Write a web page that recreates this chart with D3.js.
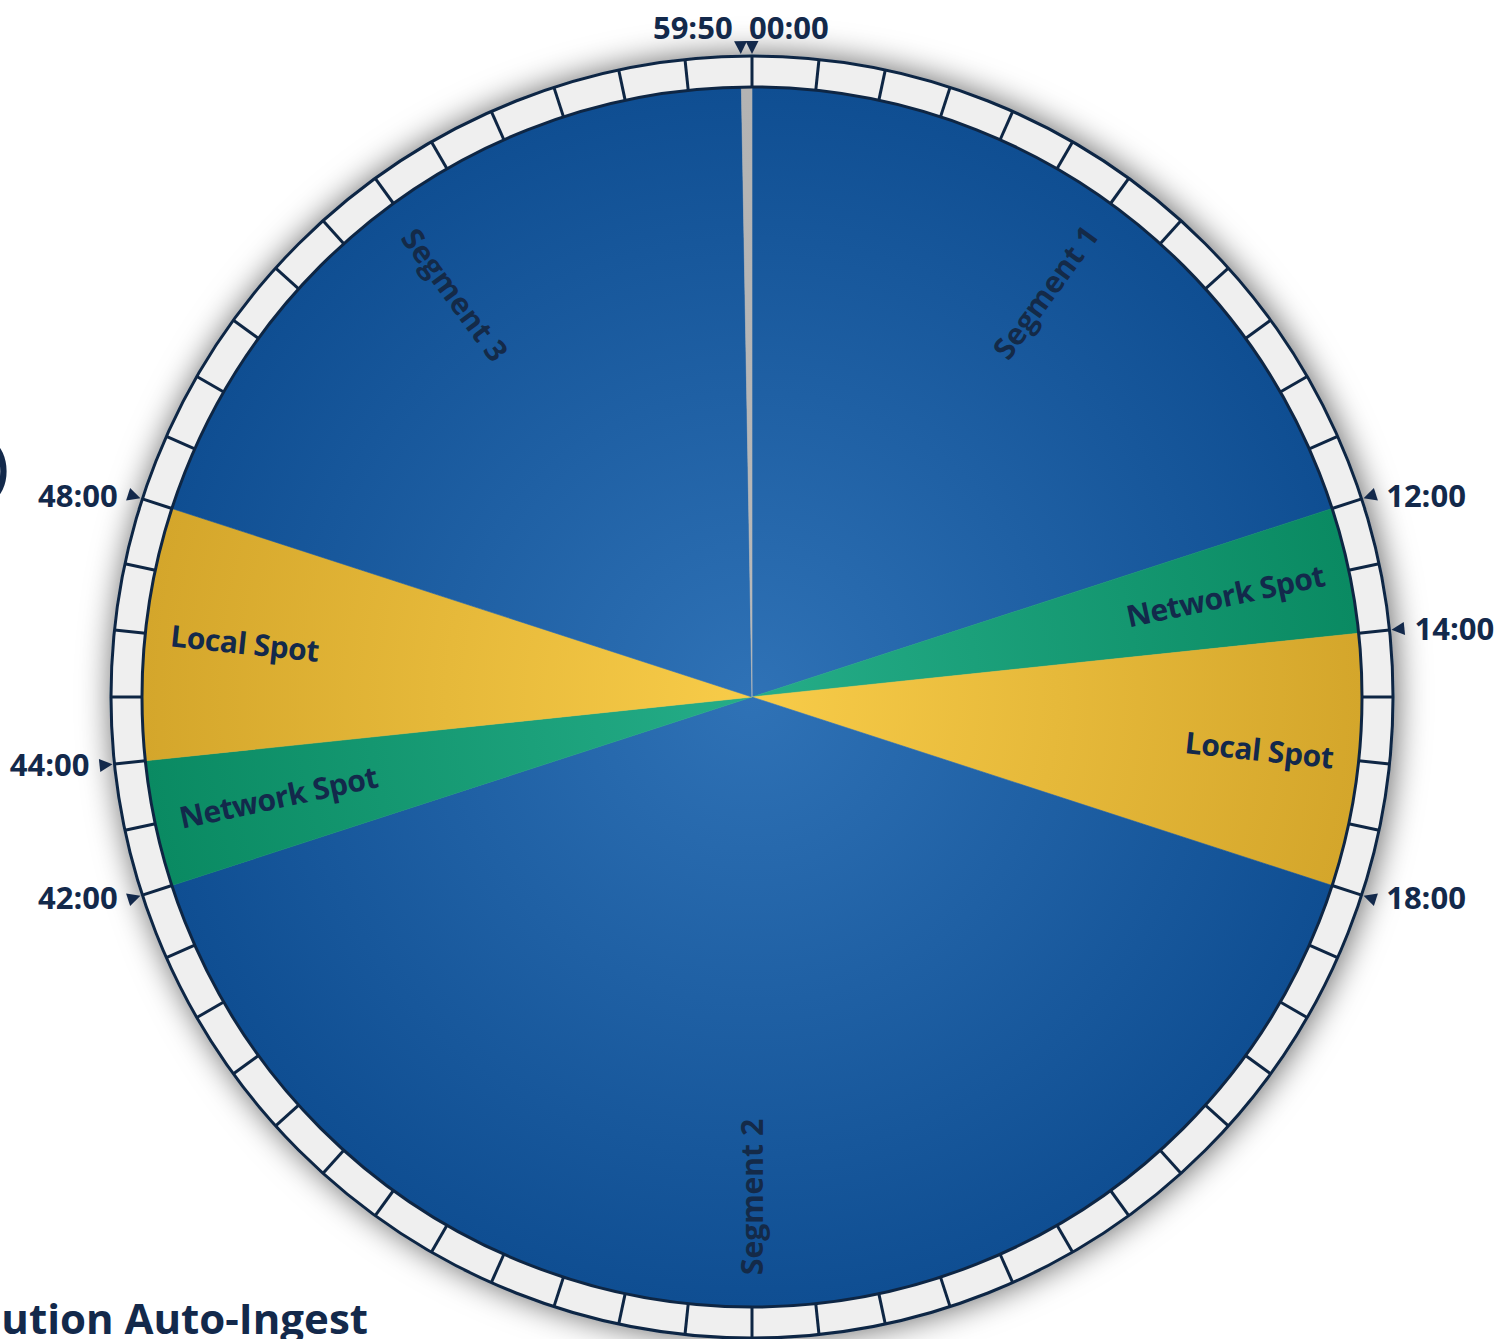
<!DOCTYPE html>
<html>
<head>
<meta charset="utf-8">
<script src="https://cdn.jsdelivr.net/npm/d3@7"></script>
<style>
  html, body { margin: 0; padding: 0; background: #fff; overflow: hidden; }
  svg { display: block; }
  text { font-family: "Open Sans", "Noto Sans", sans-serif; fill: #13294b; }
</style>
</head>
<body>
<svg id="clock"></svg>
<script>
// hour clock, all times in seconds past the hour
var slotNames = ['Segment 1', 'Network Spot', 'Local Spot', 'Segment 2', 'Network Spot', 'Local Spot', 'Segment 3', ''];
var slotTypes = ['segment', 'network', 'local', 'segment', 'network', 'local', 'segment', 'gap'];
var slotStart = [0, 720, 840, 1080, 2520, 2640, 2880, 3590];
var slotEnd   = [720, 840, 1080, 2520, 2640, 2880, 3590, 3600];

var markLabels  = ['00:00', '12:00', '14:00', '18:00', '42:00', '44:00', '48:00', '59:50'];
var markSeconds = [0, 720, 840, 1080, 2520, 2640, 2880, 3590];

var W = 1509, H = 1339;
var cx = 752, cy = 697;
var rPie = 610, rRing = 641;

var svg = d3.select('#clock').attr('width', W).attr('height', H);
var defs = svg.append('defs');

var colors = {
  segment: ['#2f72b6', '#0f4e92'],
  network: ['#25ad88', '#0a8a62'],
  local:   ['#f8cc49', '#d4a62b'],
  gap:     ['#b9b9b9', '#b3b3b3']
};
Object.keys(colors).forEach(function (k) {
  var g = defs.append('radialGradient')
    .attr('id', 'grad-' + k)
    .attr('gradientUnits', 'userSpaceOnUse')
    .attr('cx', 0).attr('cy', 0).attr('r', rPie);
  g.append('stop').attr('offset', '0%').attr('stop-color', colors[k][0]);
  g.append('stop').attr('offset', '100%').attr('stop-color', colors[k][1]);
});

var shadow = defs.append('filter').attr('id', 'shadow')
  .attr('x', '-20%').attr('y', '-20%').attr('width', '140%').attr('height', '140%');
shadow.append('feDropShadow')
  .attr('dx', 2).attr('dy', 0).attr('stdDeviation', 16)
  .attr('flood-color', '#000').attr('flood-opacity', 0.6);

// clipped text from neighbouring parts of the page
svg.append('text').attr('x', 9).attr('y', 488)
  .attr('text-anchor', 'end').style('font-size', '60px').style('font-weight', 600).text(')');
svg.append('text').attr('x', 368).attr('y', 1334)
  .attr('text-anchor', 'end').style('font-size', '42px').style('font-weight', 700)
  .text('Distribution Auto-Ingest');

var g = svg.append('g').attr('transform', 'translate(' + cx + ',' + cy + ')');

var angle = d3.scaleLinear().domain([0, 3600]).range([0, 2 * Math.PI]);

// ring with drop shadow
g.append('circle').attr('r', rRing)
  .attr('fill', '#efefef').attr('stroke', '#0e2644').attr('stroke-width', 3)
  .attr('filter', 'url(#shadow)');

// minute dividers on the ring
var minutes = d3.range(0, 3600, 60);
g.selectAll('.tick').data(minutes).enter().append('line')
  .attr('class', 'tick')
  .attr('x1', function (s) { return Math.sin(angle(s)) * rPie; })
  .attr('y1', function (s) { return -Math.cos(angle(s)) * rPie; })
  .attr('x2', function (s) { return Math.sin(angle(s)) * rRing; })
  .attr('y2', function (s) { return -Math.cos(angle(s)) * rRing; })
  .attr('stroke', '#0e2644').attr('stroke-width', 3);

var slots = slotNames.map(function (n, i) {
  return { name: n, type: slotTypes[i], start: slotStart[i], end: slotEnd[i] };
});

var arc = d3.arc().innerRadius(0).outerRadius(rPie);

g.selectAll('.slot').data(slots).enter().append('path')
  .attr('class', 'slot')
  .attr('d', function (d) {
    return arc({ startAngle: angle(d.start), endAngle: angle(d.end) });
  })
  .attr('fill', function (d) { return 'url(#grad-' + d.type + ')'; })
  .attr('stroke', function (d) { return 'url(#grad-' + d.type + ')'; })
  .attr('stroke-width', 0.6);

g.append('circle').attr('r', rPie)
  .attr('fill', 'none').attr('stroke', '#0e2644').attr('stroke-width', 3);

// slot labels, written along the radius
var labelR = { segment: 500, network: 484, local: 510 };
g.selectAll('.slot-label').data(slots.filter(function (d) { return d.name; }))
  .enter().append('text')
  .attr('class', 'slot-label')
  .attr('transform', function (d) {
    var a = (angle(d.start) + angle(d.end)) / 2;
    var deg = a * 180 / Math.PI;
    var rot = deg < 180 ? deg - 90 : deg + 90;
    var r = labelR[d.type];
    return 'translate(' + (Math.sin(a) * r) + ',' + (-Math.cos(a) * r) + ') rotate(' + rot + ')';
  })
  .attr('text-anchor', 'middle')
  .attr('dy', '0.35em')
  .style('font-size', '30px')
  .style('font-weight', 700)
  .style('letter-spacing', function (d) { return d.type === 'segment' ? '0px' : '-0.4px'; })
  .style('fill', function (d) { return d.type === 'segment' ? '#142a48' : '#13294b'; })
  .text(function (d) { return d.name; });

// time markers
var marks = markLabels.map(function (l, i) { return { label: l, s: markSeconds[i] }; });
var rTip = 643, rBase = 656, half = 6.5;

var mark = g.selectAll('.mark').data(marks).enter().append('g').attr('class', 'mark')
  .attr('transform', function (d) {
    return 'rotate(' + (angle(d.s) * 180 / Math.PI) + ')';
  });
mark.append('path')
  .attr('d', 'M0,' + (-rTip) + 'L' + (-half) + ',' + (-rBase) + 'L' + half + ',' + (-rBase) + 'Z')
  .attr('fill', '#13294b');

g.selectAll('.mark-label').data(marks).enter().append('text')
  .attr('class', 'mark-label')
  .style('font-size', '31px').style('font-weight', 700)
  .each(function (d) {
    var a = angle(d.s);
    var x = Math.sin(a) * 650, y = -Math.cos(a) * 650;
    var t = d3.select(this);
    if (d.s === 0) {
      t.attr('x', x - 3).attr('y', y - 8).attr('text-anchor', 'start');
    } else if (d.s > 3500) {
      t.attr('x', x - 8).attr('y', y - 8).attr('text-anchor', 'end');
    } else if (a < Math.PI) {
      t.attr('x', x + 16).attr('y', y).attr('dy', '0.35em').attr('text-anchor', 'start');
    } else {
      t.attr('x', x - 16).attr('y', y).attr('dy', '0.35em').attr('text-anchor', 'end');
    }
  })
  .text(function (d) { return d.label; });
</script>
</body>
</html>
